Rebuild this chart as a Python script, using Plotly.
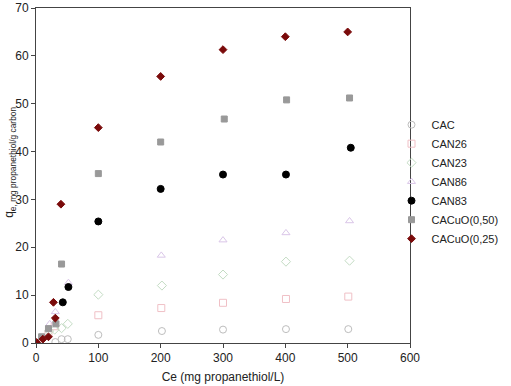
import plotly.graph_objects as go

# Data
cac_x = [31, 41, 51, 100, 202, 300, 401, 501]
cac_y = [0.2, 0.8, 0.8, 1.7, 2.5, 2.8, 2.9, 2.9]

can26_x = [20, 30, 100, 201, 300, 401, 501]
can26_y = [2.0, 3.5, 5.8, 7.3, 8.4, 9.2, 9.7]

can23_x = [21, 30, 41, 51, 100, 202, 300, 401, 503]
can23_y = [2.5, 2.8, 3.1, 4.0, 10.1, 12.0, 14.3, 17.0, 17.2]

can86_x = [22, 31, 52, 201, 300, 401, 503]
can86_y = [4.0, 6.5, 12.6, 18.3, 21.5, 23.0, 25.5]

can83_x = [43, 52, 100, 200, 300, 401, 505]
can83_y = [8.5, 11.7, 25.4, 32.2, 35.2, 35.2, 40.8]

cacuo50_x = [9, 20, 32, 41, 100, 200, 302, 402, 503]
cacuo50_y = [1.3, 3.0, 4.0, 16.5, 35.4, 42.0, 46.8, 50.8, 51.2]

cacuo25_x = [1, 11, 20, 28, 31, 40, 100, 200, 300, 400, 500]
cacuo25_y = [0.1, 0.8, 1.3, 8.5, 5.2, 29.0, 45.0, 55.7, 61.3, 64.0, 65.0]

x_ticks = [0, 100, 200, 300, 400, 500, 600]
y_ticks = [0, 10, 20, 30, 40, 50, 60, 70]

x_title = "Ce (mg propanethiol/L)"
y_title = "q<sub>e, mg propanethiol/g carbon</sub>"

series = [
    ("CAC", cac_x, cac_y, "circle-open", "#bdbdbd", 7),
    ("CAN26", can26_x, can26_y, "square-open", "#f0c0c6", 7),
    ("CAN23", can23_x, can23_y, "diamond-open", "#c4dcc4", 7),
    ("CAN86", can86_x, can86_y, "triangle-up-open", "#dac6e8", 7),
    ("CAN83", can83_x, can83_y, "circle", "#000000", 7),
    ("CACuO(0,50)", cacuo50_x, cacuo50_y, "square", "#999999", 6),
    ("CACuO(0,25)", cacuo25_x, cacuo25_y, "diamond", "#7a0a0a", 6),
]

fig = go.Figure()
for name, xs, ys, sym, col, sz in series:
    fig.add_trace(go.Scatter(
        x=xs, y=ys, mode="markers", name=name,
        marker=dict(symbol=sym, color=col, size=sz, line=dict(color=col, width=1)),
    ))

axis_common = dict(
    showgrid=False, zeroline=False, showline=True, linecolor="#444444", linewidth=1,
    mirror=True, ticks="outside", ticklen=4, tickcolor="#444444", automargin=False,
    tickfont=dict(family="Liberation Sans, Arial", size=12, color="#222222"),
)

L, R, T, B = 36, 100, 8, 43
plot_w = 511 - L - R

fig.update_layout(
    width=511, height=386,
    margin=dict(l=L, r=R, t=T, b=B),
    paper_bgcolor="white", plot_bgcolor="white",
    font=dict(family="Liberation Sans, Arial", color="#222222"),
    xaxis=dict(range=[0, 600], tickvals=x_ticks,
               title=dict(text=x_title, font=dict(size=12), standoff=8),
               **axis_common),
    yaxis=dict(range=[0, 70], tickvals=y_ticks, **axis_common),
    legend=dict(x=0.948, y=0.695, xanchor="left", yanchor="top",
                font=dict(size=11, color="#222222"), bgcolor="rgba(0,0,0,0)",
                tracegroupgap=0, itemsizing="trace", itemwidth=30),
    showlegend=True,
    annotations=[dict(
        text=y_title, textangle=-90, showarrow=False,
        xref="paper", yref="paper", x=-L / plot_w, y=0.538,
        xanchor="left", yanchor="middle",
        font=dict(size=12, color="#222222"),
    )],
)

fig.write_html("out.html", config={"displayModeBar": False, "responsive": False},
               post_script="document.body.style.margin='0';")
